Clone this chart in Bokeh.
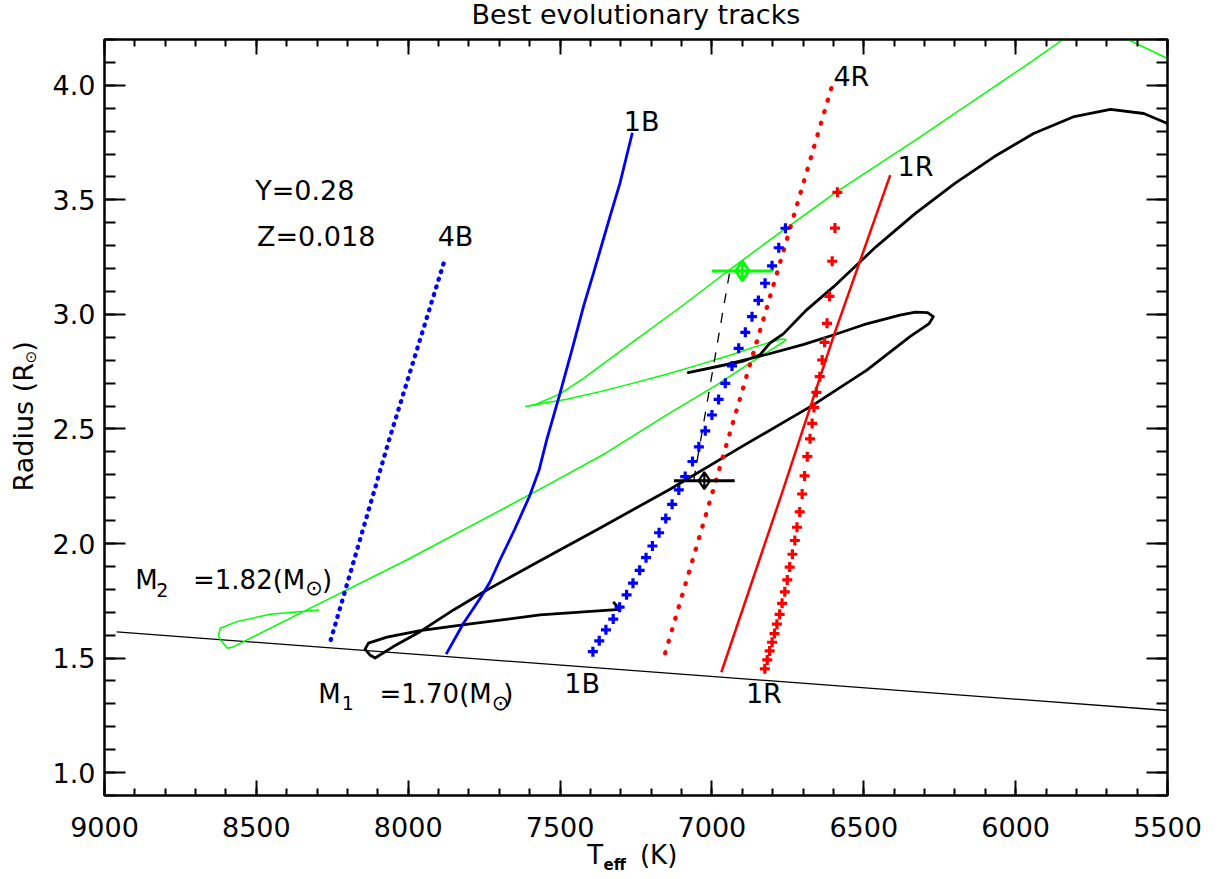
from bokeh.plotting import figure
from bokeh.models import (Range1d, FixedTicker, LinearAxis, Label, PrintfTickFormatter,
                          CustomJSTickFormatter, ColumnDataSource)
from bokeh.core.properties import value
from bokeh.embed import file_html
from bokeh.resources import INLINE

# ---------------- data ----------------
zams_teff = [8960, 5500]
zams_r = [1.614, 1.271]

# M1 = 1.70 track (black)
m1_teff = [7325, 7303, 7566, 7796, 7961, 8070, 8131, 8142, 8125, 8109, 8049, 7961, 7851, 7741,
           7566, 7368, 7138, 6902, 6666, 6490, 6348, 6285, 6271, 6290, 6330, 6381, 6500, 6600,
           6700, 6820, 6951, 7078, 6990, 6900, 6842, 6810, 6765, 6688, 6600, 6512, 6460, 6330,
           6200, 6071, 5941, 5811, 5688, 5578, 5500]
m1_r = [1.745, 1.712, 1.688, 1.649, 1.620, 1.591, 1.565, 1.539, 1.512, 1.500, 1.550, 1.615, 1.710,
        1.797, 1.925, 2.068, 2.237, 2.423, 2.605, 2.757, 2.903, 2.960, 2.990, 3.008, 3.010, 2.997,
        2.955, 2.910, 2.868, 2.825, 2.782, 2.746, 2.770, 2.795, 2.823, 2.874, 2.915, 3.020, 3.120,
        3.230, 3.295, 3.441, 3.572, 3.688, 3.790, 3.862, 3.895, 3.877, 3.833]

# M2 = 1.82 track (green)
m2_teff = [8293, 8455, 8564, 8619, 8625, 8614, 8595, 8578, 8542, 8334, 8005, 7566, 7350, 7149,
           6984, 6875, 6798, 6759, 6756, 6770, 6864, 6930, 7039, 7149, 7259, 7368, 7478, 7555,
           7615, 7577, 7500, 7423, 7259, 7094, 6940, 6809, 6590, 6330, 6071, 5941, 5844, 5740,
           5630, 5500]
m2_r = [1.710, 1.691, 1.659, 1.630, 1.597, 1.572, 1.543, 1.548, 1.572, 1.710, 1.928, 2.237, 2.394,
        2.561, 2.692, 2.787, 2.852, 2.885, 2.891, 2.893, 2.856, 2.826, 2.782, 2.739, 2.700, 2.663,
        2.630, 2.612, 2.597, 2.609, 2.653, 2.721, 2.881, 3.041, 3.197, 3.325, 3.535, 3.761, 3.993,
        4.110, 4.200, 4.260, 4.200, 4.117]

# 1B (blue solid) and 4B (blue dotted)
b1_teff = [7875, 7818, 7763, 7730, 7698, 7650, 7601, 7569, 7544, 7500, 7460, 7423, 7390, 7368,
           7335, 7303, 7262]
b1_r = [1.517, 1.652, 1.761, 1.834, 1.928, 2.060, 2.205, 2.321, 2.452, 2.656, 2.850, 3.034, 3.180,
        3.280, 3.430, 3.572, 3.793]
b4_teff = [8255, 8063, 7883]
b4_r = [1.579, 2.452, 3.225]

# 1R (red solid) and 4R (red dotted)
r1_teff = [6969, 6765, 6600, 6413]
r1_r = [1.438, 2.237, 2.903, 3.608]
r4_teff = [7154, 6874, 6761, 6605]
r4_r = [1.521, 2.784, 3.293, 3.996]

# plus-marker sequences
bplus_teff = [7392, 7371, 7349, 7325, 7304, 7281, 7260, 7238, 7217, 7196, 7174, 7152, 7131, 7109,
              7088, 7064, 7043, 7022, 7000, 6978, 6956, 6934, 6912, 6890, 6868, 6847, 6825, 6802,
              6780, 6758]
bplus_r = [1.528, 1.575, 1.623, 1.670, 1.722, 1.776, 1.827, 1.883, 1.938, 1.989, 2.047, 2.109,
           2.171, 2.234, 2.292, 2.358, 2.422, 2.492, 2.561, 2.629, 2.699, 2.775, 2.852, 2.922,
           2.990, 3.061, 3.136, 3.212, 3.291, 3.376]
rplus_teff = [6826, 6818, 6810, 6802, 6794, 6786, 6777, 6769, 6760, 6752, 6744, 6735, 6727, 6720,
              6711, 6703, 6695, 6686, 6677, 6670, 6664, 6656, 6645, 6637, 6629, 6621, 6613, 6604,
              6595, 6587]
rplus_r = [1.453, 1.492, 1.531, 1.569, 1.607, 1.648, 1.691, 1.739, 1.789, 1.841, 1.897, 1.953,
           2.013, 2.071, 2.138, 2.216, 2.295, 2.379, 2.457, 2.524, 2.594, 2.660, 2.728, 2.801,
           2.878, 2.961, 3.079, 3.232, 3.377, 3.533]

# observed components (primary black, secondary green)
obs_teff = [7025, 6900]
obs_r = [2.274, 3.190]
obs_err = [100, 100]
obs_color = ["black", "#00ff00"]
obs_size = [17, 20]
obs_lw = [2.2, 2.8]

# dashed link
link_teff = [7060, 6940]
link_r = [2.275, 3.197]

x_ticks = [9000, 8500, 8000, 7500, 7000, 6500, 6000, 5500]
x_minor = list(range(9000, 5499, -100))
y_ticks = [1.0, 1.5, 2.0, 2.5, 3.0, 3.5, 4.0]
y_minor = [round(0.9 + 0.1 * i, 1) for i in range(34)]

FONT = "DejaVu Sans"

# ---------------- figure ----------------
p = figure(width=1218, height=879, x_range=Range1d(9000, 5500), y_range=Range1d(0.9, 4.2),
           output_backend="svg", toolbar_location=None,
           min_border_left=104, min_border_right=51, min_border_top=39, min_border_bottom=84)
p.grid.visible = False
p.outline_line_color = "black"
p.outline_line_width = 2
p.background_fill_color = "white"
p.border_fill_color = "white"

xt = FixedTicker(ticks=x_ticks, minor_ticks=x_minor)
yt = FixedTicker(ticks=y_ticks, minor_ticks=y_minor)


def style(ax, tin, tmin):
    ax.axis_line_width = 2
    ax.axis_line_color = "black"
    ax.major_tick_in = tin
    ax.major_tick_out = 0
    ax.minor_tick_in = tmin
    ax.minor_tick_out = 0
    ax.major_tick_line_width = 2
    ax.minor_tick_line_width = 2
    ax.major_tick_line_color = "black"
    ax.minor_tick_line_color = "black"
    ax.major_label_text_font = FONT
    ax.major_label_text_font_size = "27px"
    ax.major_label_text_color = "black"


xa = p.xaxis[0]
xa.ticker = xt
xa.formatter = PrintfTickFormatter(format="%d")
style(xa, 15, 7)
xa.major_label_standoff = 21

ya = p.yaxis[0]
ya.ticker = yt
ya.formatter = PrintfTickFormatter(format="%.1f")
style(ya, 21, 11)
ya.major_label_standoff = 9

blank = CustomJSTickFormatter(code="return ''")
top = LinearAxis(ticker=xt, formatter=blank)
style(top, 15, 7)
top.major_label_text_font_size = "0px"
top.major_label_standoff = 0
p.add_layout(top, "above")
right = LinearAxis(ticker=yt, formatter=blank)
style(right, 21, 11)
right.major_label_text_font_size = "0px"
right.major_label_standoff = 0
p.add_layout(right, "right")

# ---------------- curves ----------------
p.line(zams_teff, zams_r, line_color="black", line_width=1.3)
p.line(m2_teff, m2_r, line_color="#00ff00", line_width=1.5)
p.line(m1_teff, m1_r, line_color="black", line_width=2.8, line_join="round")
p.line(b1_teff, b1_r, line_color="#0000ff", line_width=2.8)
p.line(b4_teff, b4_r, line_color="#0000ff", line_width=4.3, line_dash="1 7", line_cap="round")
p.line(r1_teff, r1_r, line_color="#ff0000", line_width=2.5)
p.line(r4_teff, r4_r, line_color="#ff0000", line_width=4.3, line_dash="1 11", line_cap="round")
p.scatter(bplus_teff, bplus_r, marker="cross", size=10, line_color="#0000ff", line_width=3.2)
p.scatter(rplus_teff, rplus_r, marker="cross", size=10, line_color="#ff0000", line_width=3.2)
p.line(link_teff, link_r, line_color="black", line_width=1.3, line_dash="10 10")

obs = ColumnDataSource(dict(
    x=obs_teff, y=obs_r,
    x0=[t + e for t, e in zip(obs_teff, obs_err)],
    x1=[t - e for t, e in zip(obs_teff, obs_err)],
    color=obs_color, size=obs_size, lw=obs_lw))
p.segment(x0="x0", y0="y", x1="x1", y1="y", source=obs, line_color="color", line_width=3)
p.scatter(x="x", y="y", source=obs, marker="diamond_cross", size="size", fill_color=None,
          line_color="color", line_width="lw")

# ---------------- in-plot labels ----------------
# (y positions include the ~0.35 em correction for how the baseline is drawn)
big = ColumnDataSource(dict(
    x=[8504, 8498, 7903, 7290, 6600, 6389, 7486, 6888],
    y=[3.539, 3.339, 3.339, 3.841, 4.040, 3.645, 1.391, 1.344],
    text=["Y=0.28", "Z=0.018", "4B", "1B", "4R", "1R", "1B", "1R"]))
p.text(x="x", y="y", text="text", source=big, text_font=value(FONT), text_font_size="27px",
       text_color="black", text_baseline="alphabetic", text_align="left")

mass_main = ColumnDataSource(dict(x=[8899, 8296, 8284, 7687], y=[1.842, 1.345, 1.842, 1.345],
                                  text=["M", "M", ")", ")"]))
p.text(x="x", y="y", text="text", source=mass_main, text_font=value(FONT), text_font_size="26px",
       text_color="black", text_baseline="alphabetic", text_align="left")
mass_val = ColumnDataSource(dict(x=[8339, 7725], y=[1.842, 1.345], text=["=1.82(M", "=1.70(M"]))
p.text(x="x", y="y", text="text", source=mass_val, text_font=value(FONT), text_font_size="26px",
       text_color="black", text_baseline="alphabetic", text_align="right")
mass_sub = ColumnDataSource(dict(x=[8830, 8219], y=[1.797, 1.305], text=["2", "1"]))
p.text(x="x", y="y", text="text", source=mass_sub, text_font=value(FONT), text_font_size="19px",
       text_color="black", text_baseline="alphabetic", text_align="left")
sun_sub = ColumnDataSource(dict(x=[8339, 7725], y=[1.806, 1.304], text=["\u2299", "\u2299"]))
p.text(x="x", y="y", text="text", source=sun_sub, text_font=value(FONT), text_font_size="21px",
       text_color="black", text_baseline="alphabetic", text_align="left")

# ---------------- title and axis titles ----------------
# (placed in side panels so that they are not clipped to the frame; each piece is put in a
#  panel that still has spare room, so the frame keeps its place)
def lab(side, x, y, t, size, align="left", angle=0.0, style="normal", baseline="alphabetic"):
    p.add_layout(Label(x=x, y=y, text=t, text_font=FONT, text_font_size=size,
                       text_font_style=style, text_color="black", text_align=align,
                       text_baseline=baseline, angle=angle), side)

lab("above", 7250, 4.307, "Best evolutionary tracks", "27px", align="center")
lab("left", 7358, 0.640, "T", "26px", align="right")
lab("below", 7357, 0.596, "eff", "15px", style="bold")
lab("right", 7237, 0.640, "(K)", "26px")
lab("left", 9267, 2.788, "Radius (R", "27px", align="right", angle=1.5708)
lab("right", 9241, 2.815, "\u2299", "15px", align="center", baseline="middle")
lab("below", 9267, 2.837, ")", "27px", angle=1.5708)

open("out.html", "w").write(file_html(p, INLINE))
